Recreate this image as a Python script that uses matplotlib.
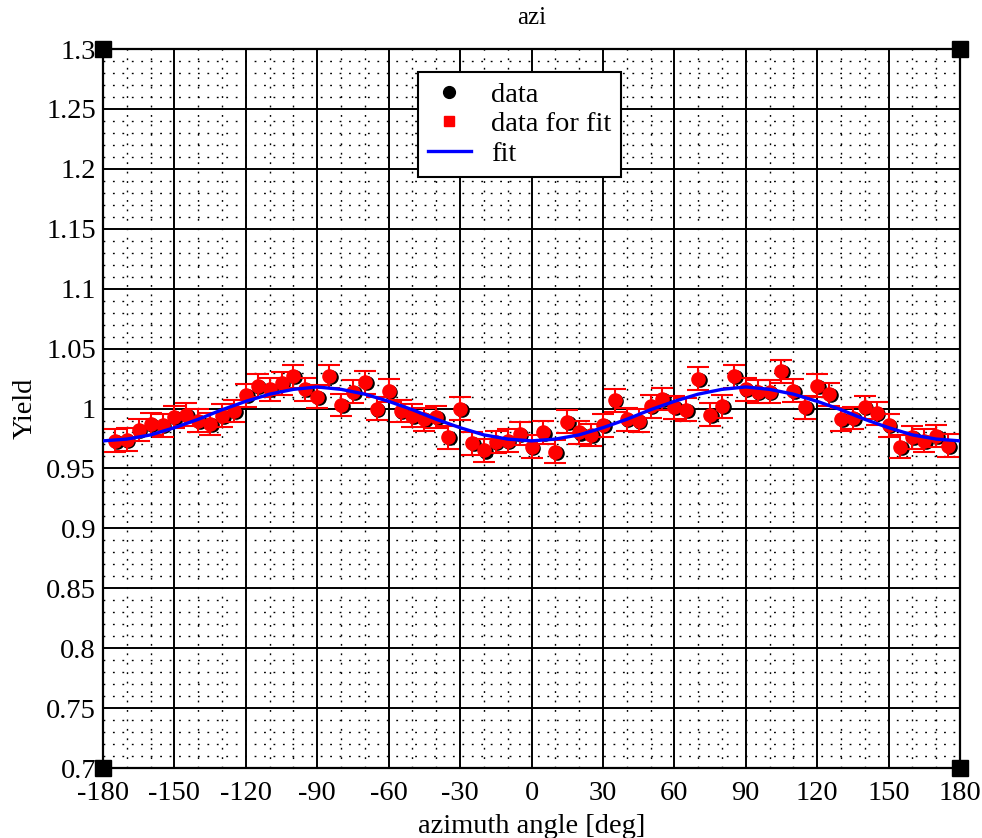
import matplotlib
matplotlib.use("Agg")
import matplotlib.pyplot as plt
import matplotlib.transforms as mtransforms
from matplotlib.lines import Line2D
from matplotlib.ticker import MultipleLocator

# azimuth bins (deg) and measured yield
angle = [-175, -170, -165, -160, -155, -150, -145, -140, -135, -130, -125, -120,
         -115, -110, -105, -100, -95, -90, -85, -80, -75, -70, -65, -60,
         -55, -50, -45, -40, -35, -30, -25, -20, -15, -10, -5, 0,
         5, 10, 15, 20, 25, 30, 35, 40, 45, 50, 55, 60,
         65, 70, 75, 80, 85, 90, 95, 100, 105, 110, 115, 120,
         125, 130, 135, 140, 145, 150, 155, 160, 165, 170, 175]
yield_val = [0.973, 0.974, 0.982, 0.987, 0.986, 0.993, 0.995, 0.990, 0.987, 0.994, 0.998, 1.011,
             1.019, 1.016, 1.021, 1.027, 1.016, 1.010, 1.027, 1.003, 1.014, 1.022, 1.000, 1.015,
             0.998, 0.994, 0.991, 0.993, 0.976, 1.000, 0.971, 0.965, 0.972, 0.973, 0.979, 0.968,
             0.980, 0.964, 0.989, 0.980, 0.978, 0.986, 1.007, 0.991, 0.990, 1.002, 1.008, 1.001,
             0.999, 1.025, 0.995, 1.002, 1.027, 1.016, 1.014, 1.014, 1.031, 1.015, 1.001, 1.019,
             1.012, 0.991, 0.992, 1.001, 0.996, 0.986, 0.968, 0.976, 0.973, 0.977, 0.969]
yield_err = [0.0095] * len(angle)

# fit curve
fit_angle = [-180, -170, -160, -150, -140, -130, -120, -110, -100, -90, -80, -70, -60,
             -50, -40, -30, -20, -10, 0, 10, 20, 30, 40, 50, 60, 70, 80, 90,
             100, 110, 120, 130, 140, 150, 160, 170, 180]
fit_val = [0.973, 0.9745, 0.978, 0.984, 0.991, 0.999, 1.006, 1.012, 1.016, 1.018, 1.016, 1.012, 1.006,
           0.999, 0.991, 0.984, 0.978, 0.9745, 0.973, 0.9745, 0.978, 0.984, 0.991, 0.999, 1.006, 1.012, 1.016, 1.018,
           1.016, 1.012, 1.006, 0.999, 0.991, 0.984, 0.978, 0.9745, 0.973]

plt.rcParams["font.family"] = ["Liberation Serif", "DejaVu Serif"]
plt.rcParams["font.size"] = 20.5
plt.rcParams["axes.unicode_minus"] = False

fig = plt.figure(figsize=(9.82, 8.38), dpi=100)
ax = fig.add_axes([0.1049, 0.0835, 0.8727, 0.858])

ax.set_xlim(-180, 180)
ax.set_ylim(0.7, 1.3)
ax.xaxis.set_major_locator(MultipleLocator(30))
ax.xaxis.set_minor_locator(MultipleLocator(10))
ax.yaxis.set_minor_locator(MultipleLocator(0.01))
ax.set_yticks([0.7 + 0.05 * i for i in range(13)])
ax.set_yticklabels(["0.7", "0.75", "0.8", "0.85", "0.9", "0.95", "1", "1.05",
                    "1.1", "1.15", "1.2", "1.25", "1.3"])
ax.tick_params(which="both", length=0)
ax.tick_params(axis="y", pad=5)
ax.tick_params(axis="x", pad=9)
ax.grid(which="major", color="black", linewidth=1.4, linestyle="-")
ax.grid(which="minor", color="black", linewidth=1.0, linestyle=(0, (1.3, 5.5)))
ax.set_axisbelow(True)
for sp in ax.spines.values():
    sp.set_linewidth(1.6)

# black "data" points slightly offset behind the red ones
shift = mtransforms.offset_copy(ax.transData, fig=fig, x=1.2, y=-0.8, units="points")
ax.plot(angle, yield_val, "o", color="black", ms=9.5, transform=shift, zorder=3)
ax.errorbar(angle, yield_val, yerr=yield_err, fmt="o", color="red", ms=9.5,
            elinewidth=1.5, capsize=8, capthick=1.5, zorder=4)
ax.plot(fit_angle, fit_val, color="blue", linewidth=2.4, zorder=5)

# corner markers
ax.plot([-180, 180, -180, 180], [0.7, 0.7, 1.3, 1.3], "s", color="black", ms=12,
        clip_on=False, zorder=6)

ax.set_xlabel("azimuth angle [deg]", labelpad=6)
ax.set_ylabel("Yield", labelpad=6)
ax.set_title("azi", pad=18, fontsize=18)

handles = [Line2D([], [], marker="o", color="black", linestyle="none", ms=8.5),
           Line2D([], [], marker="s", color="red", linestyle="none", ms=6.5),
           Line2D([], [], color="blue", linewidth=2.4)]
leg = ax.legend(handles, ["data", "data for fit", "fit"], loc="upper left",
                bbox_to_anchor=(0.3676, 0.968), borderaxespad=0, fancybox=False,
                framealpha=1, edgecolor="black", handlelength=1.5, handletextpad=0.7,
                labelspacing=0.12, borderpad=0.35)
leg.get_frame().set_linewidth(1.5)

fig.savefig("out.png", dpi=100)
